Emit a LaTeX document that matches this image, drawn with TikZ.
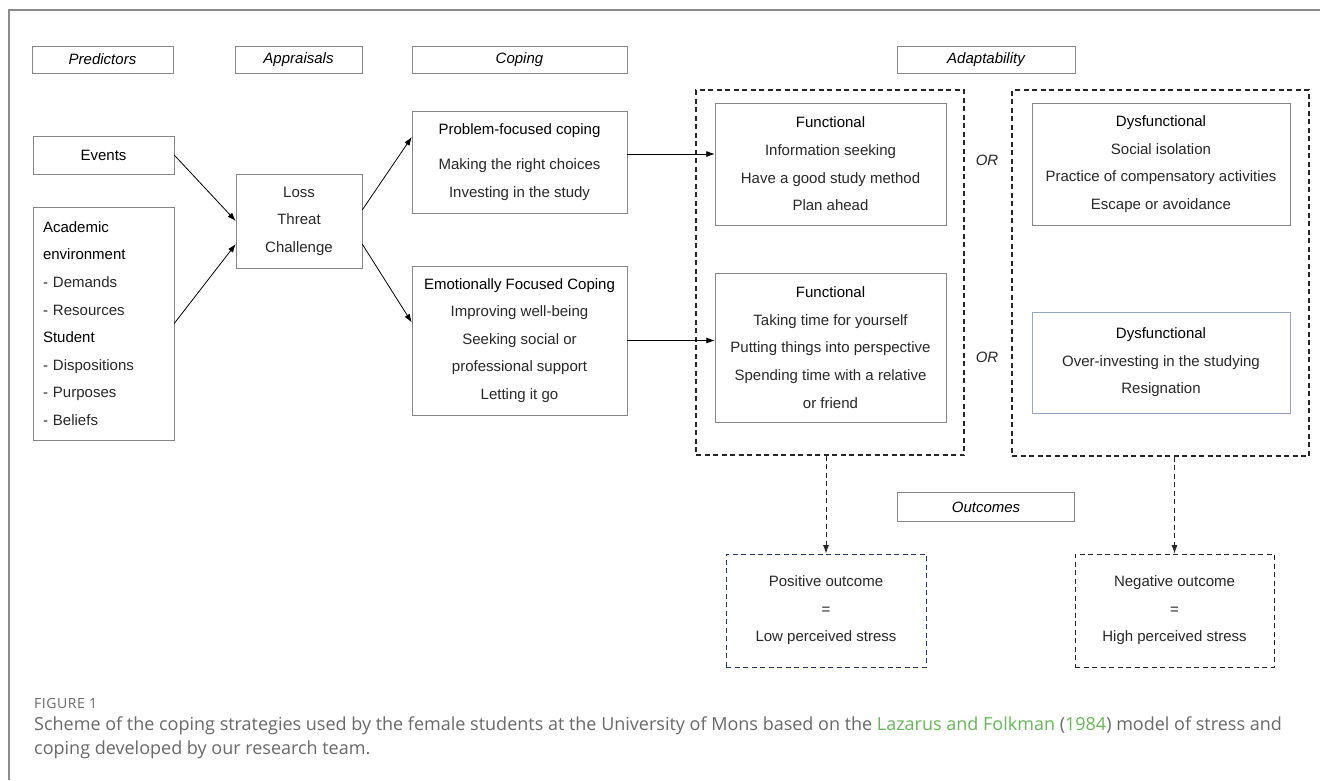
\documentclass[tikz,border=0pt]{standalone}
\usepackage{fontspec}
\setmainfont{Liberation Sans}
\newfontfamily\capfont{Open Sans}
\usepackage{tikz}
\usetikzlibrary{arrows.meta, calc}

\definecolor{boxgray}{RGB}{135,135,135}
\definecolor{txtgray}{RGB}{40,40,40}
\definecolor{framegray}{RGB}{140,140,140}
\definecolor{capgray}{RGB}{105,105,105}
\definecolor{capgreen}{RGB}{100,185,85}
\definecolor{dysblue}{RGB}{150,165,195}
\definecolor{posblue}{RGB}{40,55,105}
\newcommand{\cshead}[1]{\textcolor{black}{#1}}

\begin{document}
\begin{tikzpicture}[x=1pt, y=-1pt, >={Latex[length=8.5pt,width=6pt]}]
\tikzstyle{cs_head}=[draw=boxgray, inner sep=0pt, minimum height=27pt,
	font=\fontsize{15}{18}\selectfont\itshape]
\tikzstyle{cs_box}=[draw=boxgray, inner sep=0pt, align=center, text=txtgray,
	font=\fontsize{15}{27.6}\selectfont]
\tikzstyle{cs_group}=[draw=black!85, line width=1.1pt, dash pattern=on 5pt off 3.5pt]
\tikzstyle{cs_link}=[->, line width=0.8pt]

\fill[white] (0,0) rectangle (1320,780);
\useasboundingbox (0,0) rectangle (1320,780);
\draw[framegray, line width=2pt] (9,780) -- (9,9.5) -- (1320,9.5);

% column titles
\node at (102.5,59.5) [cs_head, minimum width=141pt] (hPred) {Predictors};
\node at (298.5,59.5) [cs_head, minimum width=127pt] (hAppr) {Appraisals};
\node at (519.5,59.5) [cs_head, minimum width=215pt] (hCop) {Coping};
\node at (986,59.5) [cs_head, minimum width=178pt] (hAdapt) {Adaptability};
\node at (986,507) [cs_head, minimum width=177pt, minimum height=29pt] (hOut) {Outcomes};

% dashed groups
\node at (830,272.5) [cs_group, minimum width=268pt, minimum height=365pt] (grpFunc) {};
\node at (1160.5,273) [cs_group, minimum width=297pt, minimum height=366pt] (grpDys) {};

% predictors and appraisals
\node at (103.5,155) [cs_box, minimum width=141pt, minimum height=38pt] (events) {\cshead{Events}};
\node at (103.5,323.5) [cs_box, minimum width=141pt, minimum height=233pt,
	text width=121pt, inner xsep=10pt, align=left] (academic)
	{\cshead{Academic}\\\cshead{environment}\\- Demands\\- Resources\\\cshead{Student}\\- Dispositions\\- Purposes\\- Beliefs};
\node at (299,221) [cs_box, minimum width=126pt, minimum height=94pt] (loss) {Loss\\Threat\\Challenge};

% coping
\node at (519.5,162) [cs_box, minimum width=215pt, minimum height=102pt] (problem)
	{\cshead{Problem-focused coping}\\[8pt]Making the right choices\\Investing in the study};
\node at (519.5,340.5) [cs_box, minimum width=215pt, minimum height=149pt] (emotion)
	{\cshead{Emotionally Focused Coping}\\Improving well-being\\Seeking social or\\professional support\\Letting it go};

% adaptability
\node at (830.5,164) [cs_box, minimum width=231pt, minimum height=122pt] (funcA)
	{\cshead{Functional}\\Information seeking\\Have a good study method\\Plan ahead};
\node at (830.5,347.5) [cs_box, minimum width=231pt, minimum height=149pt] (funcB)
	{\cshead{Functional}\\Taking time for yourself\\Putting things into perspective\\Spending time with a relative\\or friend};
\node at (1161,164) [cs_box, minimum width=258pt, minimum height=122pt] (dysA)
	{\cshead{Dysfunctional}\\Social isolation\\Practice of compensatory activities\\Escape or avoidance};
\node at (1161,362.5) [cs_box, draw=dysblue, minimum width=258pt, minimum height=101pt] (dysB)
	{\cshead{Dysfunctional}\\Over-investing in the studying\\Resignation};
\node at (987,160) [font=\fontsize{15}{18}\selectfont\itshape, text=txtgray] (orA) {OR};
\node at (987,357) [font=\fontsize{15}{18}\selectfont\itshape, text=txtgray] (orB) {OR};

% outcomes
\node at (826,610.5) [cs_box, cs_group, draw=posblue, line width=0.9pt, minimum width=200pt, minimum height=113pt] (positive)
	{Positive outcome\\=\\Low perceived stress};
\node at (1174.5,610.5) [cs_box, cs_group, line width=0.9pt, minimum width=199pt, minimum height=113pt] (negative)
	{Negative outcome\\=\\High perceived stress};

% links
\draw[cs_link] (events.east) -- (loss.west);
\draw[cs_link] (academic.east) -- ([yshift=-23pt]loss.west);
\draw[cs_link] ([yshift=11pt]loss.east) -- ([yshift=25pt]problem.west);
\draw[cs_link] ([yshift=-23pt]loss.east) -- ([yshift=18pt]emotion.west);
\draw[cs_link] ([yshift=8pt]problem.east) -- ([yshift=8pt]problem.east -| funcA.west);
\draw[cs_link] (emotion.east) -- (emotion.east -| funcB.west);
\draw[cs_link, cs_group, line width=0.9pt] (positive.north |- grpFunc.south) -- (positive.north);
\draw[cs_link, cs_group, line width=0.9pt] (negative.north |- grpDys.south) -- (negative.north);

% caption
\node at (34,708) [anchor=base west, inner sep=0pt, text=capgray, font=\capfont\fontsize{14}{16}\selectfont\addfontfeature{LetterSpace=4}] (capNum) {FIGURE 1};
\node at (34,730) [anchor=base west, inner sep=0pt, text=capgray, font=\capfont\fontsize{18}{24}\selectfont] (capLineA)
	{Scheme of the coping strategies used by the female students at the University of Mons based on the \textcolor{capgreen}{Lazarus and Folkman} (\textcolor{capgreen}{1984}) model of stress and};
\node at (34,754) [anchor=base west, inner sep=0pt, text=capgray, font=\capfont\fontsize{18}{24}\selectfont] (capLineB)
	{coping developed by our research team.};
\end{tikzpicture}
\end{document}
